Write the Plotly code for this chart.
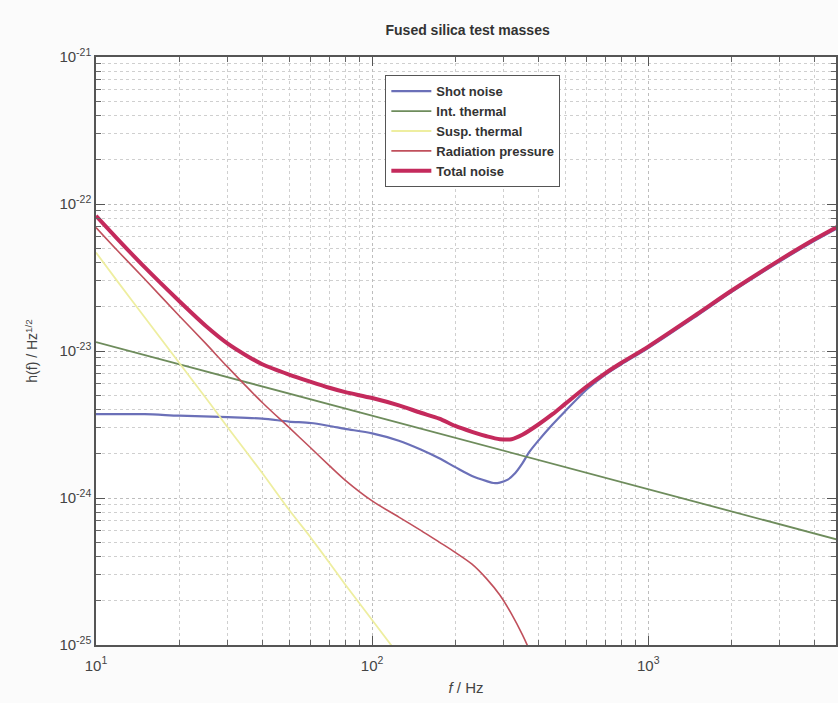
import plotly.graph_objects as go

# ---- data (log10 of h(f)) ----
shot_freq = [10, 15, 20, 30, 40, 50, 60, 70, 80, 100, 125, 150, 175, 200, 230,
             260, 275, 290, 310, 330, 350, 370, 400, 450, 500, 600, 700, 800,
             1000, 1500, 2000, 3000, 4000, 5000]
shot_log = [-23.43, -23.43, -23.44, -23.45, -23.46, -23.48, -23.49, -23.51,
            -23.53, -23.56, -23.61, -23.67, -23.73, -23.79, -23.85, -23.885,
            -23.898, -23.895, -23.875, -23.83, -23.765, -23.69, -23.61, -23.50,
            -23.41, -23.26, -23.16, -23.09, -22.98, -22.76, -22.60, -22.39,
            -22.25, -22.15]

total_freq = [10, 12, 15, 20, 25, 30, 35, 40, 50, 60, 70, 80, 100, 125, 150,
              175, 200, 230, 260, 290, 320, 350, 400, 450, 500, 600, 700, 800,
              1000, 1500, 2000, 3000, 4000, 5000]
total_log = [-22.08, -22.24, -22.43, -22.66, -22.83, -22.95, -23.03, -23.09,
             -23.16, -23.21, -23.25, -23.28, -23.32, -23.37, -23.42, -23.46,
             -23.51, -23.55, -23.58, -23.60, -23.60, -23.57, -23.50, -23.43,
             -23.36, -23.24, -23.15, -23.08, -22.97, -22.75, -22.59, -22.38,
             -22.24, -22.14]

int_freq = [10, 100, 1000, 5000]
int_log = [-22.94, -23.44, -23.94, -24.29]

susp_freq = [10, 12, 15, 20, 25, 30, 40, 50, 60, 70, 80, 100, 125]
susp_log = [-22.33, -22.53, -22.77, -23.08, -23.32, -23.52, -23.83, -24.08,
            -24.27, -24.44, -24.59, -24.83, -25.07]

rad_freq = [10, 12, 15, 20, 25, 30, 40, 50, 60, 70, 80, 100, 125, 150, 175,
            200, 230, 260, 290, 320, 350, 380, 400]
rad_log = [-22.16, -22.32, -22.51, -22.76, -22.95, -23.11, -23.35, -23.52,
           -23.66, -23.78, -23.88, -24.02, -24.13, -24.22, -24.30, -24.37,
           -24.45, -24.55, -24.66, -24.79, -24.93, -25.08, -25.20]

def tov(lst):
    return [10 ** v for v in lst]

x_tickvals = [10, 100, 1000]
x_ticktext = ["10<sup>1</sup>", "10<sup>2</sup>", "10<sup>3</sup>"]
y_tickvals = [1e-25, 1e-24, 1e-23, 1e-22, 1e-21]
y_ticktext = ["10<sup>-25</sup>", "10<sup>-24</sup>", "10<sup>-23</sup>",
              "10<sup>-22</sup>", "10<sup>-21</sup>"]

x_minor = [m * d for d in (10, 100, 1000) for m in range(2, 10)]
y_minor = [m * d for d in (1e-25, 1e-24, 1e-23, 1e-22) for m in range(2, 10)]

FONT = "Liberation Sans, Arial"

fig = go.Figure()
fig.add_trace(go.Scatter(x=shot_freq, y=tov(shot_log), name="<b>Shot noise</b>", mode="lines",
                         line=dict(color="#6b70b8", width=2.2, shape="spline", smoothing=0.8)))
fig.add_trace(go.Scatter(x=int_freq, y=tov(int_log), name="<b>Int. thermal</b>", mode="lines",
                         line=dict(color="#6e8c5c", width=1.8)))
fig.add_trace(go.Scatter(x=susp_freq, y=tov(susp_log), name="<b>Susp. thermal</b>", mode="lines",
                         line=dict(color="#eeeea0", width=1.8, shape="spline", smoothing=0.5)))
fig.add_trace(go.Scatter(x=rad_freq, y=tov(rad_log), name="<b>Radiation pressure</b>", mode="lines",
                         line=dict(color="#c0505c", width=1.6, shape="spline", smoothing=0.8)))
fig.add_trace(go.Scatter(x=total_freq, y=tov(total_log), name="<b>Total noise</b>", mode="lines",
                         line=dict(color="#c42a5c", width=4, shape="spline", smoothing=0.8)))

axis_common = dict(
    type="log", showline=True, linecolor="#555555", linewidth=1.5, mirror="allticks",
    ticks="inside", ticklen=9, tickcolor="#555555", tickwidth=1.2,
    showgrid=True, gridcolor="#bdbdbd", griddash="dot", gridwidth=1,
    zeroline=False,
    tickfont=dict(family=FONT, size=15, color="#444444"),
)

fig.update_xaxes(**axis_common, range=[1, 3.68], tickmode="array",
                 tickvals=x_tickvals, ticktext=x_ticktext, ticklabelstandoff=6,
                 minor=dict(tickmode="array", tickvals=x_minor, ticks="inside", ticklen=5,
                            tickcolor="#666666", showgrid=True, gridcolor="#cfcfcf",
                            griddash="dot", gridwidth=1),
                 title=dict(text="<i>f</i> / Hz", font=dict(family=FONT, size=15, color="#444444"),
                            standoff=10))
fig.update_yaxes(**axis_common, range=[-25, -21], tickmode="array",
                 tickvals=y_tickvals, ticktext=y_ticktext,
                 minor=dict(tickmode="array", tickvals=y_minor, ticks="inside", ticklen=5,
                            tickcolor="#666666", showgrid=True, gridcolor="#cfcfcf",
                            griddash="dot", gridwidth=1),
                 title=dict(text="h(f) / Hz<sup>1/2</sup>", font=dict(family=FONT, size=14, color="#444444"),
                            standoff=18))

fig.update_layout(
    width=838, height=703,
    margin=dict(l=96, r=0, t=57, b=58),
    paper_bgcolor="#fbfbfb", plot_bgcolor="#ffffff",
    title=dict(text="<b>Fused silica test masses</b>", x=0.558, xanchor="center",
               y=0.957, yanchor="middle",
               font=dict(family=FONT, size=14, color="#333333")),
    legend=dict(x=0.391, y=0.969, xanchor="left", yanchor="top",
                bgcolor="#ffffff", bordercolor="#555555", borderwidth=1,
                font=dict(family=FONT, size=13, color="#333333"),
                tracegroupgap=0, itemwidth=40),
    showlegend=True,
)

fig.write_html("out.html")
